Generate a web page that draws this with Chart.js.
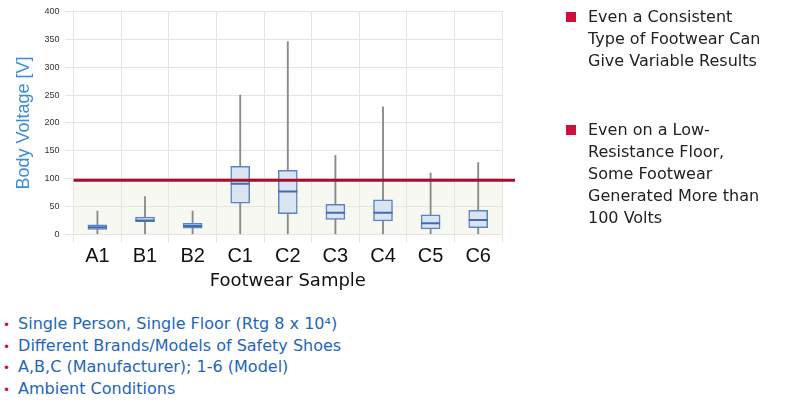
<!DOCTYPE html><html><head><script src="https://cdn.jsdelivr.net/npm/chart.js@4"></script>
<style>body{margin:0;width:800px;height:404px;background:#fff;font-family:"DejaVu Sans",sans-serif;position:relative;overflow:hidden}
#c{position:absolute;left:0;top:0}
.r{position:absolute;left:566px;font-size:16px;line-height:22px;color:#222}
.r span{display:inline-block;width:10px;height:10px;background:#d0103a;margin-right:12px}
.r div{padding-left:22px}
ul{position:absolute;left:0;top:314px;margin:0;padding:0;list-style:none;font-size:16px;line-height:20.5px;color:#2266bb}
li:before{content:"•";color:#d0103a;margin:0 8px 0 3px;font-size:12px}
</style></head><body>
<div id="c" style="width:570px;height:292px"><canvas id="cv"></canvas></div>
<div class="r" style="top:6px"><span></span>Even a Consistent<div>Type of Footwear Can</div><div>Give Variable Results</div></div>
<div class="r" style="top:119px"><span></span>Even on a Low-<div>Resistance Floor,</div><div>Some Footwear</div><div>Generated More than</div><div>100 Volts</div></div>
<ul><li>Single Person, Single Floor (Rtg 8 x 10⁴)</li><li>Different Brands/Models of Safety Shoes</li><li>A,B,C (Manufacturer); 1-6 (Model)</li><li>Ambient Conditions</li></ul>
<script>
const categories=["A1","B1","B2","C1","C2","C3","C4","C5","C6"];
const mins=[0,0,0,0,0,0,0,0,0];
const q1=[9,23,11,56,37,27,24,10,12];
const medians=[13,25,15,91,77,39,39,20,26];
const q3=[17,31,20,122,115,54,62,35,43];
const maxs=[42,68,42,250,346,142,229,110,129];
const limit=97;
const yTicks=[0,50,100,150,200,250,300,350,400];
const refLine={id:'ref',beforeDatasetsDraw(ch){const y=ch.scales.y.getPixelForValue(limit),a=ch.chartArea,c=ch.ctx;c.save();c.fillStyle='rgba(235,235,220,0.35)';c.fillRect(a.left,y,a.right-a.left,a.bottom-y);c.restore();},
afterDatasetsDraw(ch){const y=ch.scales.y.getPixelForValue(limit),c=ch.ctx;c.save();c.strokeStyle='#a50f2d';c.lineWidth=3;c.beginPath();c.moveTo(ch.chartArea.left,y);c.lineTo(ch.chartArea.right+13,y);c.stroke();c.restore();}};
new Chart(document.getElementById('cv'),{data:{labels:categories,datasets:[
{type:'bar',data:categories.map((_,i)=>[mins[i],maxs[i]]),backgroundColor:'#8a8a8a',barThickness:1.2,grouped:false,order:3},
{type:'bar',data:categories.map((_,i)=>[q1[i],q3[i]]),backgroundColor:'#dbe4f1',borderColor:'#5b84c4',borderWidth:1.5,borderSkipped:false,barThickness:19,grouped:false,order:2},
{type:'line',data:medians,showLine:false,pointStyle:'line',pointRadius:9.5,borderColor:'#3f6db5',borderWidth:2,order:1}]},
options:{responsive:true,maintainAspectRatio:false,animation:false,layout:{padding:{top:-6,right:68,left:9}},plugins:{legend:{display:false},tooltip:{enabled:false}},
scales:{y:{min:0,max:400,afterBuildTicks(s){s.ticks=yTicks.map(v=>({value:v}))},ticks:{font:{size:9,family:'Arial'},color:'#333',padding:6},grid:{color:'#e4e4e4'},border:{display:false},
title:{display:true,text:'Body Voltage [V]',color:'#3a8dd6',font:{size:18,family:'Arial'}}},
x:{ticks:{font:{size:20,family:'Arial'},color:'#111',padding:2},grid:{color:'#e4e4e4',offset:true},border:{display:false},
title:{display:true,text:'Footwear Sample',color:'#111',font:{size:18,family:'DejaVu Sans'},padding:0}}}},plugins:[refLine]});
</script></body></html>
